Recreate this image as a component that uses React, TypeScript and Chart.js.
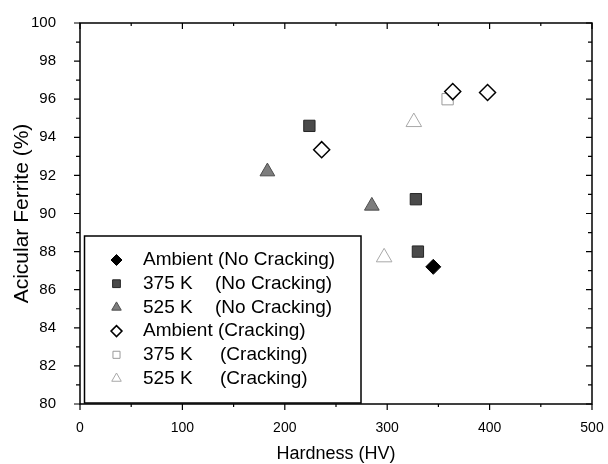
import React, { useEffect, useRef } from 'react';
import { Chart, registerables } from 'chart.js';

Chart.register(...registerables);

const FONT = '"Liberation Sans", Arial, Helvetica, sans-serif';

// Axis ticks
const xTicks = [0, 100, 200, 300, 400, 500];
const yTicks = [80, 82, 84, 86, 88, 90, 92, 94, 96, 98, 100];
const xMinorStep = 50;
const yMinorStep = 1;

// Legend labels
const seriesNames = ['Ambient', '375 K', '525 K', 'Ambient', '375 K', '525 K'];
const seriesConditions = ['(No Cracking)', '(No Cracking)', '(No Cracking)', '(Cracking)', '(Cracking)', '(Cracking)'];

// Data: hardness (HV) and acicular ferrite (%)
const ambientNoCrackX = [345];
const ambientNoCrackY = [87.2];
const k375NoCrackX = [224, 328, 330];
const k375NoCrackY = [94.6, 90.75, 88.0];
const k525NoCrackX = [183, 285];
const k525NoCrackY = [92.2, 90.4];
const ambientCrackX = [236, 364, 398];
const ambientCrackY = [93.35, 96.4, 96.35];
const k375CrackX = [359];
const k375CrackY = [96.0];
const k525CrackX = [326, 297];
const k525CrackY = [94.8, 87.7];

const pts = (xs: number[], ys: number[]) => xs.map((x, i) => ({ x, y: ys[i] }));

type Sty = { style: string; r: number; lr: number; bg: string; bd: string; bw: number };
const styles: Sty[] = [
  { style: 'rectRot', r: 7.5, lr: 5.5, bg: '#000000', bd: '#000000', bw: 1 },
  { style: 'rect', r: 8, lr: 5.5, bg: '#4a4a4a', bd: '#262626', bw: 1 },
  { style: 'triangle', r: 8.5, lr: 5.5, bg: '#7d7d7d', bd: '#4d4d4d', bw: 1 },
  { style: 'rectRot', r: 8, lr: 5.5, bg: '#ffffff', bd: '#000000', bw: 1.5 },
  { style: 'rect', r: 8, lr: 5, bg: 'rgba(255,255,255,0)', bd: '#9a9a9a', bw: 1 },
  { style: 'triangle', r: 9, lr: 5.5, bg: 'rgba(255,255,255,0)', bd: '#a8a8a8', bw: 1 },
];

function drawMarker(ctx: CanvasRenderingContext2D, s: Sty, x: number, y: number, r: number) {
  ctx.save();
  ctx.beginPath();
  if (s.style === 'rectRot') {
    ctx.moveTo(x - r, y);
    ctx.lineTo(x, y - r);
    ctx.lineTo(x + r, y);
    ctx.lineTo(x, y + r);
    ctx.closePath();
  } else if (s.style === 'rect') {
    const h = r * Math.SQRT1_2;
    ctx.rect(x - h, y - h, 2 * h, 2 * h);
  } else {
    const a = (2 * Math.PI) / 3;
    ctx.moveTo(x, y - r);
    ctx.lineTo(x + Math.sin(a) * r, y - Math.cos(a) * r);
    ctx.lineTo(x + Math.sin(2 * a) * r, y - Math.cos(2 * a) * r);
    ctx.closePath();
  }
  ctx.fillStyle = s.bg;
  ctx.fill();
  ctx.lineWidth = s.bw;
  ctx.strokeStyle = s.bd;
  ctx.stroke();
  ctx.restore();
}

const framePlugin = {
  id: 'frameTicks',
  beforeDatasetsDraw(chart: any) {
    const { ctx, chartArea: a, scales } = chart;
    const xs = scales.x;
    const ys = scales.y;
    ctx.save();
    ctx.strokeStyle = '#000';
    ctx.lineWidth = 1.5;
    ctx.strokeRect(a.left, a.top, a.right - a.left, a.bottom - a.top);
    ctx.lineWidth = 1.2;
    ctx.beginPath();
    for (let v = xTicks[0]; v <= xTicks[xTicks.length - 1]; v += xMinorStep) {
      const px = xs.getPixelForValue(v);
      const major = xTicks.includes(v);
      const l = major ? 6 : 3;
      ctx.moveTo(px, a.bottom);
      ctx.lineTo(px, a.bottom + l);
      ctx.moveTo(px, a.top);
      ctx.lineTo(px, a.top + l);
    }
    for (let v = yTicks[0]; v <= yTicks[yTicks.length - 1]; v += yMinorStep) {
      const py = ys.getPixelForValue(v);
      const major = yTicks.includes(v);
      const l = major ? 6 : 4;
      ctx.moveTo(a.left, py);
      ctx.lineTo(a.left - l, py);
      ctx.moveTo(a.right, py);
      ctx.lineTo(a.right - l, py);
    }
    ctx.stroke();
    ctx.restore();
  },
  afterDraw(chart: any) {
    const { ctx, chartArea: a } = chart;
    const left = a.left + 4.5;
    const right = a.left + 281;
    const bottom = a.bottom - 1;
    const top = bottom - 167;
    ctx.save();
    ctx.fillStyle = '#fff';
    ctx.fillRect(left, top, right - left, bottom - top);
    ctx.strokeStyle = '#000';
    ctx.lineWidth = 1.5;
    ctx.strokeRect(left, top, right - left, bottom - top);
    ctx.font = `19px ${FONT}`;
    ctx.fillStyle = '#000';
    ctx.textBaseline = 'middle';
    ctx.textAlign = 'left';
    seriesNames.forEach((name, i) => {
      const y = top + 24 + i * 23.7;
      drawMarker(ctx, styles[i], left + 32, y, styles[i].lr);
      const cond = seriesConditions[i];
      if (name === 'Ambient') {
        ctx.fillText(`${name} ${cond}`, left + 58.5, y);
      } else {
        ctx.fillText(name, left + 58.5, y);
        const cx = cond === '(No Cracking)' ? left + 130.5 : left + 135.5;
        ctx.fillText(cond, cx, y);
      }
    });
    ctx.restore();
  },
};

export default function App() {
  const ref = useRef<HTMLCanvasElement | null>(null);
  useEffect(() => {
    document.body.style.margin = '0';
    const canvas = ref.current;
    if (!canvas) return;
    const series = [
      pts(ambientNoCrackX, ambientNoCrackY),
      pts(k375NoCrackX, k375NoCrackY),
      pts(k525NoCrackX, k525NoCrackY),
      pts(ambientCrackX, ambientCrackY),
      pts(k375CrackX, k375CrackY),
      pts(k525CrackX, k525CrackY),
    ];
    const chart = new Chart(canvas, {
      type: 'scatter',
      data: {
        datasets: series.map((d, i) => ({
          label: `${seriesNames[i]} ${seriesConditions[i]}`,
          data: d,
          pointStyle: styles[i].style as any,
          pointRadius: styles[i].r,
          pointBackgroundColor: styles[i].bg,
          pointBorderColor: styles[i].bd,
          pointBorderWidth: styles[i].bw,
          showLine: false,
        })),
      },
      options: {
        animation: false,
        responsive: false,
        devicePixelRatio: 1,
        layout: { padding: { top: 23, right: 16, left: 0, bottom: 0 } },
        plugins: { legend: { display: false }, tooltip: { enabled: false } },
        scales: {
          x: {
            type: 'linear',
            min: xTicks[0],
            max: xTicks[xTicks.length - 1],
            afterBuildTicks: (s: any) => {
              s.ticks = xTicks.map((v) => ({ value: v }));
            },
            afterFit: (s: any) => {
              s.height = 60;
              s.paddingLeft = 0;
              s.paddingRight = 0;
            },
            grid: { display: false },
            border: { display: false },
            ticks: { font: { family: FONT, size: 14 }, color: '#000', padding: 8, maxRotation: 0 },
            title: {
              display: true,
              text: 'Hardness (HV)',
              color: '#000',
              font: { family: FONT, size: 18, lineHeight: 1 },
              padding: { top: 0, bottom: 1 },
            },
          },
          y: {
            type: 'linear',
            min: yTicks[0],
            max: yTicks[yTicks.length - 1],
            afterBuildTicks: (s: any) => {
              s.ticks = yTicks.map((v) => ({ value: v }));
            },
            afterFit: (s: any) => {
              s.width = 80;
              s.paddingTop = 0;
              s.paddingBottom = 0;
            },
            grid: { display: false },
            border: { display: false },
            ticks: { font: { family: FONT, size: 15 }, color: '#000', padding: 16 },
            title: {
              display: true,
              text: 'Acicular Ferrite (%)',
              color: '#000',
              font: { family: FONT, size: 21, lineHeight: 1.2 },
              padding: { top: 10, bottom: 0 },
            },
          },
        },
      },
      plugins: [framePlugin],
    });
    return () => chart.destroy();
  }, []);
  return <canvas ref={ref} width={608} height={464} style={{ display: 'block' }} />;
}
